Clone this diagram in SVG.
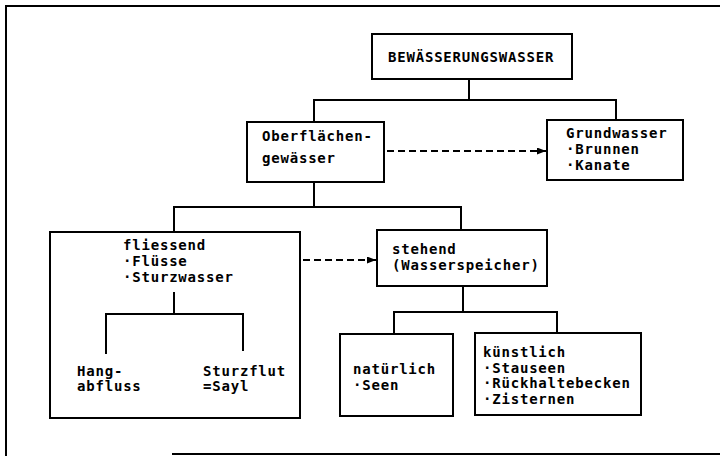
<svg xmlns="http://www.w3.org/2000/svg" width="720" height="456" viewBox="0 0 720 456">
<style>
.t { font-family: "DejaVu Sans Mono", "Liberation Mono", monospace; font-size: 14px; font-weight: bold; letter-spacing: 0.8px; fill: #000; }
.box { fill: none; stroke: #000; stroke-width: 2; }
.ln { fill: none; stroke: #000; stroke-width: 2; }
.dash { stroke-dasharray: 7 4; }
</style>
<defs>
<marker id="ah" markerUnits="userSpaceOnUse" markerWidth="10" markerHeight="8" refX="9" refY="3.5" orient="auto">
<path d="M0,0 L9,3.5 L0,7 z" fill="#000"/>
</marker>
</defs>
<rect width="720" height="456" fill="#fff"/>
<g id="frame" class="ln">
<path d="M6,6 H720 M6,5 V456 M172,454 H720"/>
</g>
<g id="node-bewaesserungswasser">
<rect class="box" x="372" y="34" width="200" height="45"/>
<text class="t" x="388" y="62">BEWÄSSERUNGSWASSER</text>
</g>
<g id="node-oberflaechengewaesser">
<rect class="box" x="247" y="122" width="137" height="60"/>
<text class="t" x="262" y="141">Oberflächen-</text>
<text class="t" x="262" y="163">gewässer</text>
</g>
<g id="node-grundwasser">
<rect class="box" x="547" y="120" width="136" height="60"/>
<text class="t" x="566" y="138">Grundwasser</text>
<text class="t" x="566" y="154">·Brunnen</text>
<text class="t" x="566" y="170">·Kanate</text>
</g>
<g id="node-fliessend">
<rect class="box" x="50" y="232" width="250" height="186"/>
<text class="t" x="123" y="250">fliessend</text>
<text class="t" x="123" y="266">·Flüsse</text>
<text class="t" x="123" y="282">·Sturzwasser</text>
</g>
<g id="node-hangabfluss">
<text class="t" x="77" y="376">Hang-</text>
<text class="t" x="77" y="391">abfluss</text>
</g>
<g id="node-sturzflut">
<text class="t" x="203" y="376">Sturzflut</text>
<text class="t" x="203" y="391">=Sayl</text>
</g>
<g id="node-stehend">
<rect class="box" x="377" y="230" width="170" height="56"/>
<text class="t" x="392" y="254">stehend</text>
<text class="t" x="392" y="270">(Wasserspeicher)</text>
</g>
<g id="node-natuerlich">
<rect class="box" x="340" y="334" width="113" height="82"/>
<text class="t" x="353" y="374">natürlich</text>
<text class="t" x="353" y="390">·Seen</text>
</g>
<g id="node-kuenstlich">
<rect class="box" x="475" y="333" width="166" height="82"/>
<text class="t" x="483" y="357">künstlich</text>
<text class="t" x="483" y="373">·Stauseen</text>
<text class="t" x="483" y="388">·Rückhaltebecken</text>
<text class="t" x="483" y="404">·Zisternen</text>
</g>
<g id="connectors" class="ln">
<path d="M469,79 V100 M314,122 V100 H616 V120"/>
<path d="M314,182 V207 M174,232 V207 H461 V230"/>
<path d="M174,292 V314 M106,354 V314 H243 V351"/>
<path d="M463,286 V312 M394,334 V312 H557 V333"/>
<path class="dash" d="M387,151 H546" marker-end="url(#ah)"/>
<path class="dash" d="M303,260 H376" marker-end="url(#ah)"/>
</g>
</svg>
